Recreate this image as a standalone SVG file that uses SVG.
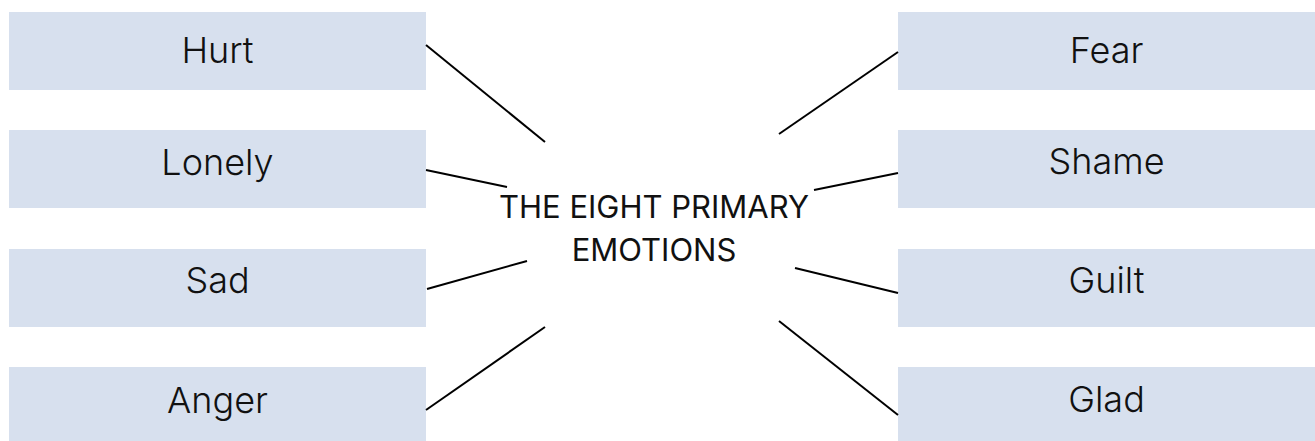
<svg xmlns="http://www.w3.org/2000/svg" width="1315" height="441" viewBox="0 0 1315 441">
<style>
.box{fill:#d7e0ee}
.lbl{font-family:Inter,"Liberation Sans",sans-serif;font-weight:300;font-size:36px;fill:#111;text-anchor:middle}
.title{font-family:Inter,"Liberation Sans",sans-serif;font-weight:400;font-size:31px;fill:#111;text-anchor:middle}
.conn line{stroke:#000;stroke-width:2}
</style>
<rect width="1315" height="441" fill="#fff"/>
<g id="hurt"><rect class="box" x="9" y="12" width="417" height="78"/><text class="lbl" x="217.5" y="63">Hurt</text></g>
<g id="lonely"><rect class="box" x="9" y="130" width="417" height="78"/><text class="lbl" x="217.5" y="175">Lonely</text></g>
<g id="sad"><rect class="box" x="9" y="249" width="417" height="78"/><text class="lbl" x="217.5" y="293">Sad</text></g>
<g id="anger"><rect class="box" x="9" y="367" width="417" height="78"/><text class="lbl" x="217.5" y="413">Anger</text></g>
<g id="fear"><rect class="box" x="898" y="12" width="417" height="78"/><text class="lbl" x="1106.5" y="63">Fear</text></g>
<g id="shame"><rect class="box" x="898" y="130" width="417" height="78"/><text class="lbl" x="1106.5" y="174">Shame</text></g>
<g id="guilt"><rect class="box" x="898" y="249" width="417" height="78"/><text class="lbl" x="1106.5" y="293">Guilt</text></g>
<g id="glad"><rect class="box" x="898" y="367" width="417" height="78"/><text class="lbl" x="1106.5" y="412">Glad</text></g>
<g id="center"><text class="title" x="654" y="218">THE EIGHT PRIMARY</text><text class="title" x="654" y="261">EMOTIONS</text></g>
<g id="connectors" class="conn">
<line x1="426" y1="45" x2="545" y2="142"/>
<line x1="426" y1="170" x2="507" y2="187"/>
<line x1="427" y1="289" x2="527" y2="261"/>
<line x1="426" y1="410" x2="545" y2="327"/>
<line x1="898" y1="52" x2="779" y2="134"/>
<line x1="898" y1="173" x2="814" y2="190"/>
<line x1="898" y1="293" x2="795" y2="268"/>
<line x1="898" y1="415" x2="779" y2="321"/>
</g>
</svg>
